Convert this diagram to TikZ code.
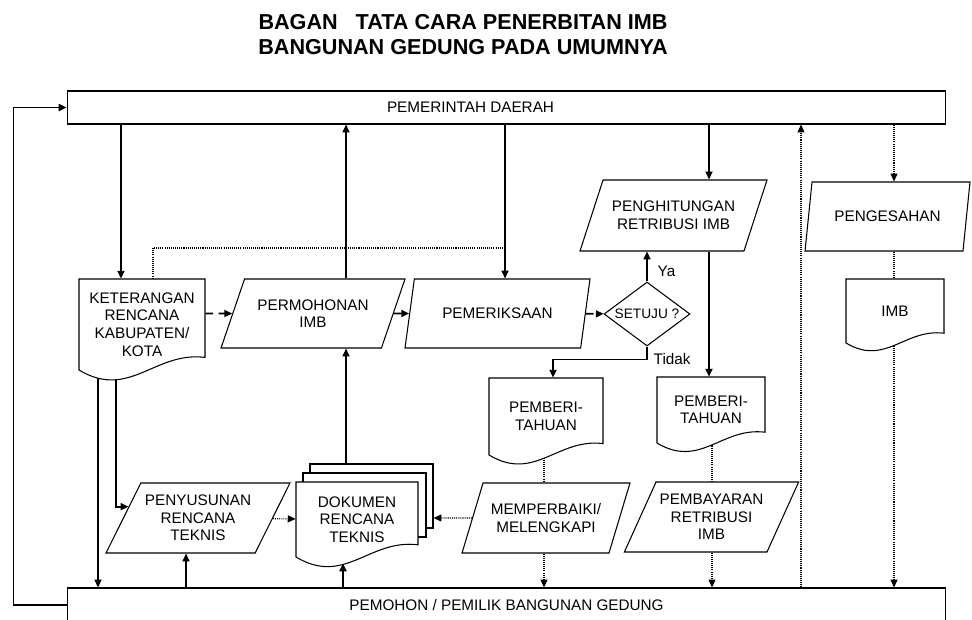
\documentclass[tikz,border=0pt]{standalone}
\usepackage{fontspec}
\setmainfont{Liberation Sans}
\usetikzlibrary{arrows.meta,positioning,shapes.geometric,calc,backgrounds}

% document shape: name, x, y, width, height (px), text
\newcommand{\docnode}[6]{%
  \filldraw[docline] ({#2-#4/2},{#3+#5/2}) -- ({#2-#4/2},{#3-#5/2})
    -- ({#2+#4/2},{#3-#5/2}) -- ({#2+#4/2},{#3+#5/2-0.1*#4})
    .. controls ({#2+0.1*#4},{#3+#5/2-0.15*#4}) and ({#2-0.1*#4},{#3+#5/2+0.24*#4})
    .. ({#2-#4/2},{#3+#5/2}) -- cycle;
  \node (#1) [docbox, minimum width=#4*0.2mm, minimum height=#5*0.2mm] at (#2,#3) {#6};
}

\begin{document}
\begin{tikzpicture}[x=0.02cm, y=-0.02cm,
    font=\fontsize{8.7}{10}\selectfont,
    >={Triangle[length=4.5pt,width=4pt]},
    panel/.style={rectangle, draw, line width=0.6pt, minimum width=175.8mm},
    docline/.style={draw, fill=white, line width=0.6pt},
    docbox/.style={rectangle, align=center, inner sep=0pt},
    para/.style={trapezium, trapezium left angle=#1, trapezium right angle=180-#1,
                 trapezium stretches body, draw, line width=0.6pt, align=center, inner sep=2pt},
    flow/.style={->, line width=1pt},
    dashflow/.style={->, line width=1pt, dash pattern=on 4.5pt off 3pt},
    dotline/.style={line width=0.6pt, dash pattern=on 0.6pt off 0.6pt},
    dotflow/.style={dotline, ->}]
    \useasboundingbox (0,0) rectangle (972,619);
    \clip (0,0) rectangle (972,619);

    \node (title) [font=\bfseries\fontsize{12.3}{14.2}\selectfont, align=center] at (463,35)
        {BAGAN\ \ \ TATA CARA PENERBITAN IMB\\BANGUNAN GEDUNG PADA UMUMNYA};

    \node (pemda) [panel, minimum height=6.6mm, label={[xshift=-7.2mm]center:PEMERINTAH DAERAH}] at (506.5,107.5) {};
    \node (pemohon) [panel, minimum height=6.8mm] at (506.5,605) {PEMOHON / PEMILIK BANGUNAN GEDUNG};

    \node (permohonan) [para=56.3, minimum width=36.8mm, minimum height=13.8mm] at (313,313.5) {PERMOHONAN\\IMB};
    \node (pemeriksaan) [para=62.4, minimum width=37mm, minimum height=13.8mm] at (497.5,313.5) {PEMERIKSAAN};
    \node (penghitungan) [para=57, minimum width=37.4mm, minimum height=14.2mm] at (673.5,215.5) {PENGHITUNGAN\\RETRIBUSI IMB};
    \node (pengesahan) [para=68.6, minimum width=33mm, minimum height=13.8mm] at (887.5,216.5) {PENGESAHAN};
    \node (penyusunan) [para=56.7, minimum width=36.8mm, minimum height=14mm] at (198,518) {PENYUSUNAN\\RENCANA\\TEKNIS};
    \node (memperbaiki) [para=59.6, minimum width=33.6mm, minimum height=14mm] at (546,518) {MEMPERBAIKI/\\MELENGKAPI};
    \node (pembayaran) [para=59, minimum width=33.4mm, minimum height=14mm] at (711.5,517) {PEMBAYARAN\\RETRIBUSI\\IMB};

    \node (setuju) [diamond, draw, line width=0.6pt, aspect=1.34, inner sep=0pt, minimum width=17.2mm,
                    minimum height=12.8mm, font=\fontsize{7.8}{9}\selectfont] at (647,314) {SETUJU ?};

    \docnode{ket}{142}{324.5}{126}{91}{KETERANGAN\\RENCANA\\KABUPATEN/\\KOTA}
    \docnode{pemberiA}{546}{416.5}{114}{77}{PEMBERI-\\TAHUAN}
    \docnode{pemberiB}{711}{410}{108}{66}{PEMBERI-\\TAHUAN}
    \docnode{imb}{895}{311}{98}{64}{IMB}
    \node (dok3) [rectangle, draw, fill=white, line width=0.6pt, minimum width=24.6mm, minimum height=12.8mm] at (371.5,496) {};
    \node (dok2) [rectangle, draw, fill=white, line width=0.6pt, minimum width=24.6mm, minimum height=12.8mm] at (364.5,505) {};
    \docnode{dokumen}{357}{519.5}{122}{75}{DOKUMEN\\RENCANA\\TEKNIS}

    \begin{pgfonlayer}{background}
    \draw[flow] (121,0 |- pemda.south) -- (121,0 |- ket.north);
    \draw[dotline] (153,0 |- ket.north) |- (505,248);
    \draw[flow] (346,0 |- permohonan.north) -- (346,0 |- pemda.south);
    \draw[flow] (505,0 |- pemda.south) -- (505,0 |- pemeriksaan.north);
    \draw[flow] (709,0 |- pemda.south) -- (709,0 |- penghitungan.north);
    \draw[dotflow] (894,0 |- pemda.south) -- (894,0 |- pengesahan.north);
    \draw[dotflow] (801,0 |- pemohon.north) -- (801,0 |- pemda.south);

    \draw[dashflow] (ket.east |- permohonan) -- (permohonan);
    \draw[dashflow] (permohonan) -- (pemeriksaan);
    \draw[dashflow] (pemeriksaan) -- (setuju);
    \draw[flow] (setuju.north) -- node[right, pos=0.35, xshift=0.8mm] {Ya} (setuju.north |- penghitungan.south);
    \draw[flow] (setuju.south) -- node[right, pos=1] {Tidak} ++(0,13) -| ([xshift=1.4mm]pemberiA.north);
    \draw[flow] (709,0 |- penghitungan.south) -- (709,0 |- pemberiB.north);

    \draw[dotline] (894,0 |- pengesahan.south) -- (894,0 |- imb.north);
    \draw[dotflow] (894,0 |- imb.south) -- (894,0 |- pemohon.north);
    \draw[dotline] (712,0 |- pemberiB.south) -- (712,0 |- pembayaran.north);
    \draw[dotflow] (712,0 |- pembayaran.south) -- (712,0 |- pemohon.north);
    \draw[dotline] (544,0 |- pemberiA.south) -- (544,0 |- memperbaiki.north);
    \draw[dotflow] (544,0 |- memperbaiki.south) -- (544,0 |- pemohon.north);
    \draw[dotflow] (memperbaiki) -- (memperbaiki -| dok3.east);
    \draw[dotflow] (penyusunan) -- (dokumen);

    \draw[flow] (186,0 |- pemohon.north) -- (186,0 |- penyusunan.south);
    \draw[flow] (343,0 |- pemohon.north) -- ($(343,0 |- dokumen.south)+(0,6)$);
    \draw[flow] (346,0 |- dok3.north) -- (346,0 |- permohonan.south);
    \draw[flow] (98,0 |- ket.south) -- (98,0 |- pemohon.north);
    \draw[flow] (116,0 |- ket.south) |- ($(penyusunan.top left corner)!0.34!(penyusunan.bottom left corner)$);
    \draw[flow] (pemohon.west) -- ++(-53,0) |- (pemda.west);
    \end{pgfonlayer}
\end{tikzpicture}
\end{document}
